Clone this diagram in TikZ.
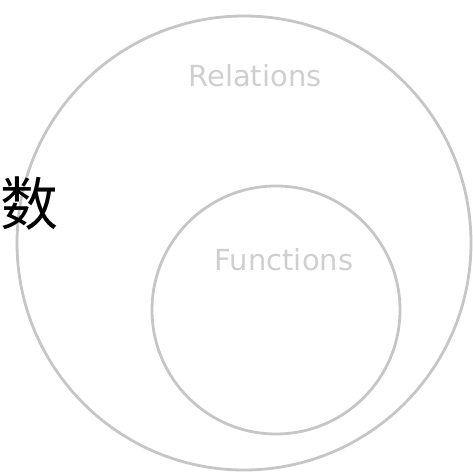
\documentclass[tikz,border=0pt]{standalone}
\usepackage{fontspec}
\setmainfont{DejaVu Sans}
\newfontfamily\cjk{Noto Sans CJK SC}
\usetikzlibrary{positioning}

\begin{document}
\begin{tikzpicture}[x=1pt, y=1pt,
  setc/.style={draw=gray!45, line width=2.8pt, circle, inner sep=0pt},
  lbl/.style={text=gray!38, font=\fontsize{29}{30}\selectfont, inner sep=0pt},
  han/.style={font=\cjk\fontsize{58}{60}\selectfont, inner sep=0pt}]
\useasboundingbox (0,0) rectangle (472,473);
% nested sets
\node[setc, minimum size=454pt] (rel) at (244,230) {};
\node[setc, minimum size=248pt] (fun) at (276,163) {};
% labels
\node[lbl] (rellbl) at (255,397) {Relations};
\node[lbl] (funlbl) at (284,213) {Functions};
\node[han] (shu) at (30,269) {数};
\end{tikzpicture}
\end{document}
